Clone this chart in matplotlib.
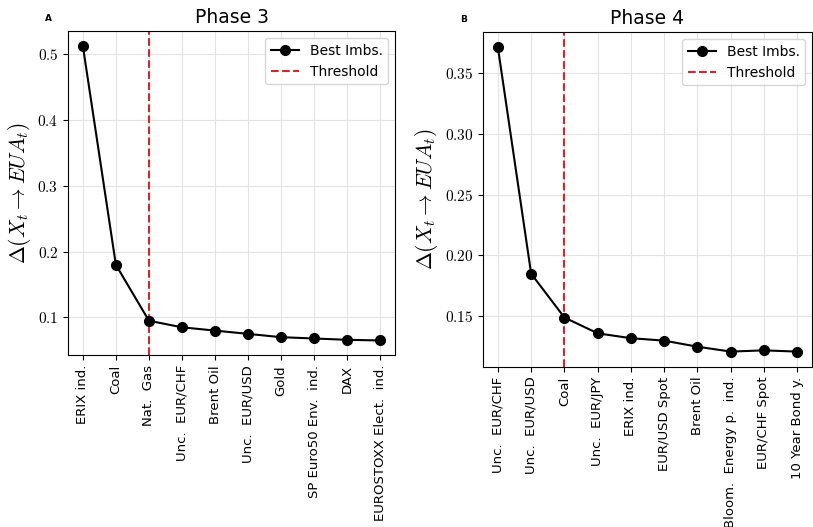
import matplotlib
matplotlib.use("Agg")
import matplotlib.pyplot as plt
from matplotlib.ticker import FuncFormatter

plt.rcParams["mathtext.fontset"] = "cm"
plt.rcParams["font.family"] = ["DejaVu Sans"]

phase3_labels = ["ERIX ind.", "Coal", "Nat.  Gas", "Unc.  EUR/CHF", "Brent Oil",
                 "Unc.  EUR/USD", "Gold", "SP Euro50 Env.  ind.", "DAX",
                 "EUROSTOXX Elect.  ind."]
phase3_values = [0.513, 0.180, 0.095, 0.085, 0.080, 0.075, 0.070, 0.068, 0.066, 0.065]
phase3_threshold = 2

phase4_labels = ["Unc.  EUR/CHF", "Unc.  EUR/USD", "Coal", "Unc.  EUR/JPY", "ERIX ind.",
                 "EUR/USD Spot", "Brent Oil", "Bloom.  Energy p.  ind.", "EUR/CHF Spot",
                 "10 Year Bond y."]
phase4_values = [0.371, 0.185, 0.149, 0.136, 0.132, 0.130, 0.125, 0.121, 0.122, 0.121]
phase4_threshold = 2

fig = plt.figure(figsize=(8.13, 5.27), dpi=100)
ax1 = fig.add_axes([0.0836, 0.326, 0.4024, 0.615])
ax2 = fig.add_axes([0.594, 0.304, 0.405, 0.635])


def draw(ax, labels, values, thr, title, letter, fmt):
    x = list(range(len(labels)))
    ax.plot(x, values, color="black", marker="o", markersize=7, linewidth=1.5,
            label="Best Imbs.", zorder=3)
    ax.axvline(thr, color="#d62728", linestyle="--", linewidth=1.5, label="Threshold")
    ax.set_xticks(x)
    ax.set_xticklabels(labels, rotation=90, fontsize=9.5)
    ax.yaxis.set_major_formatter(FuncFormatter(lambda v, p: "$" + fmt.format(v) + "$"))
    ax.tick_params(axis="y", labelsize=11)
    ax.grid(True, color="#e3e3e3", linewidth=0.8)
    ax.set_ylabel(r"$\Delta(X_t \rightarrow EUA_t)$", fontsize=15.5, labelpad=3)
    ax.set_title(title, fontsize=13.5)
    ax.legend(loc="upper right", fontsize=10)
    ax.text(-0.07, 1.03, letter, transform=ax.transAxes, fontsize=6.5, fontweight="bold")


draw(ax1, phase3_labels, phase3_values, phase3_threshold, "Phase 3", "A", "{:.1f}")
draw(ax2, phase4_labels, phase4_values, phase4_threshold, "Phase 4", "B", "{:.2f}")

fig.savefig("out.png", dpi=100)
